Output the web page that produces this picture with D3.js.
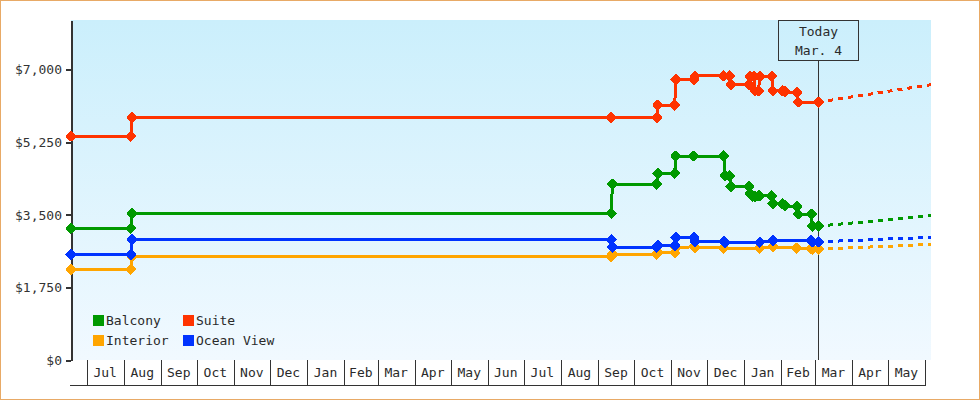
<!DOCTYPE html>
<html><head><meta charset="utf-8">
<script src="https://cdn.jsdelivr.net/npm/d3@7"></script>
<style>
html,body{margin:0;padding:0;background:#fff;}
svg{display:block;font-family:"DejaVu Sans Mono",monospace;}
</style></head>
<body>
<svg id="c" width="980" height="400"></svg>
<script>
// ---------- data ----------
const domainStart = "2012-06-18";
const domainEnd = "2014-06-06";
const todayDate = "2014-03-04";
const todayLabel = ["Today", "Mar. 4"];
const yTicks = [0, 1750, 3500, 5250, 7000];
const yMax = 8200;
const monthLabels = ["Jul","Aug","Sep","Oct","Nov","Dec","Jan","Feb","Mar","Apr","May","Jun",
                     "Jul","Aug","Sep","Oct","Nov","Dec","Jan","Feb","Mar","Apr","May"];
const seriesNames = ["Balcony", "Interior", "Suite", "Ocean View"];
const seriesColors = ["#009900", "#ffa500", "#ff3300", "#0033ff"];

const balcony = [
  ["2012-06-18",3180],["2012-08-07",3180],["2012-08-08",3540],["2013-09-12",3540],["2013-09-13",4240],
  ["2013-10-20",4240],["2013-10-21",4500],["2013-11-04",4500],["2013-11-05",4920],["2013-11-20",4920],
  ["2013-12-15",4920],["2013-12-16",4440],["2013-12-20",4440],["2013-12-21",4180],["2014-01-05",4180],
  ["2014-01-06",4020],["2014-01-08",3950],["2014-01-10",3940],["2014-01-13",3960],["2014-01-14",3960],
  ["2014-01-24",3960],["2014-01-25",3770],["2014-02-02",3770],["2014-02-04",3720],["2014-02-14",3700],
  ["2014-02-15",3520],["2014-02-26",3520],["2014-02-27",3230],["2014-03-04",3230]
];
const interior = [
  ["2012-06-18",2190],["2012-08-07",2190],["2012-08-08",2500],["2013-09-12",2500],["2013-09-13",2550],
  ["2013-10-20",2550],["2013-10-21",2590],["2013-11-04",2590],["2013-11-05",2710],["2013-11-20",2730],
  ["2013-11-21",2710],["2013-12-15",2700],["2014-01-14",2700],["2014-01-25",2730],["2014-02-14",2700],
  ["2014-02-26",2690],["2014-02-27",2670],["2014-03-04",2670]
];
const suite = [
  ["2012-06-18",5400],["2012-08-07",5400],["2012-08-08",5850],["2013-09-12",5850],["2013-10-20",5850],
  ["2013-10-21",6150],["2013-11-04",6150],["2013-11-05",6760],["2013-11-20",6760],["2013-11-21",6850],
  ["2013-12-15",6850],["2013-12-20",6850],["2013-12-21",6650],["2014-01-05",6650],["2014-01-06",6840],
  ["2014-01-09",6840],["2014-01-10",6490],["2014-01-13",6490],["2014-01-14",6840],["2014-01-24",6840],
  ["2014-01-25",6490],["2014-02-02",6490],["2014-02-04",6470],["2014-02-14",6450],["2014-02-15",6220],
  ["2014-03-04",6220]
];
const oceanView = [
  ["2012-06-18",2550],["2012-08-07",2550],["2012-08-08",2900],["2013-09-12",2900],["2013-09-13",2720],
  ["2013-10-20",2720],["2013-10-21",2760],["2013-11-04",2760],["2013-11-05",2960],["2013-11-20",2960],
  ["2013-11-21",2860],["2013-12-15",2860],["2013-12-16",2840],["2014-01-14",2840],["2014-01-25",2880],
  ["2014-02-26",2880],["2014-02-27",2850],["2014-03-04",2850]
];
// projections (dashed) from today to end of range
const balconyProj = [["2014-03-04",3230],["2014-06-06",3480]];
const interiorProj = [["2014-03-04",2670],["2014-06-06",2790]];
const suiteProj = [["2014-03-04",6220],["2014-06-06",6640]];
const oceanViewProj = [["2014-03-04",2850],["2014-06-06",2960]];

// ---------- drawing ----------
const parse = d3.timeParse("%Y-%m-%d");
const svg = d3.select("#c").attr("shape-rendering", "crispEdges");
const W = 980, H = 400;
const plot = {left: 71, right: 931, top: 20, bottom: 360};

const x = d3.scaleTime().domain([parse(domainStart), parse(domainEnd)]).range([plot.left, plot.right]);
const y = d3.scaleLinear().domain([0, yMax]).range([plot.bottom, plot.top]);

// outer border
svg.append("rect").attr("x", 0.5).attr("y", 0.5).attr("width", W - 1).attr("height", H - 1)
  .attr("fill", "#fff").attr("stroke", "#e8aa66");

// gradient background
const defs = svg.append("defs");
const g = defs.append("linearGradient").attr("id", "bg").attr("x1", 0).attr("y1", 0).attr("x2", 0).attr("y2", 1);
g.append("stop").attr("offset", "0%").attr("stop-color", "#cbeffc");
g.append("stop").attr("offset", "100%").attr("stop-color", "#f1f9ff");
svg.append("rect").attr("x", plot.left).attr("y", plot.top)
  .attr("width", plot.right - plot.left).attr("height", plot.bottom - plot.top).attr("fill", "url(#bg)");

// x axis (month bands)
const months = d3.timeMonth.range(d3.timeMonth.ceil(x.domain()[0]), x.domain()[1]);
const lastMonth = months[months.length - 1];
const xAxis = d3.axisBottom(x).tickValues(months).tickSize(25).tickSizeOuter(0).tickFormat("");
const xg = svg.append("g").attr("transform", `translate(0,${plot.bottom})`).call(xAxis);
xg.select(".domain").remove();
xg.selectAll(".tick line").attr("stroke", "#333").attr("stroke-width", 1);
svg.append("line").attr("x1", plot.left - 1).attr("x2", Math.round(x(lastMonth)) + 0.5)
  .attr("y1", plot.bottom + 25.5).attr("y2", plot.bottom + 25.5).attr("stroke", "#333");
svg.append("g").selectAll("text").data(monthLabels).join("text")
  .attr("x", (d, i) => (x(months[i]) + x(months[i + 1])) / 2)
  .attr("y", plot.bottom + 17)
  .attr("text-anchor", "middle").attr("font-size", 13).attr("fill", "#2a2a2a")
  .text(d => d);

// y axis
const yAxis = d3.axisLeft(y).tickValues(yTicks).tickSize(5).tickPadding(4).tickSizeOuter(0)
  .tickFormat(d => "$" + d3.format(",")(d));
const yg = svg.append("g").attr("transform", `translate(${plot.left},0)`).call(yAxis);
yg.select(".domain").attr("stroke", "#333").attr("stroke-width", 2);
yg.selectAll(".tick line").attr("stroke", "#333").attr("stroke-width", 2);
yg.selectAll(".tick text").attr("font-size", 13).attr("fill", "#333")
  .attr("font-family", '"DejaVu Sans Mono",monospace');

// today marker
const tx = Math.round(x(parse(todayDate))) + 0.5;
svg.append("line").attr("x1", tx).attr("x2", tx).attr("y1", 60).attr("y2", plot.bottom).attr("stroke", "#333");
svg.append("rect").attr("x", tx - 40).attr("y", plot.top + 0.5).attr("width", 80).attr("height", 40)
  .attr("fill", "none").attr("stroke", "#333");
svg.append("g").selectAll("text").data(todayLabel).join("text")
  .attr("x", tx).attr("y", (d, i) => 36 + i * 19)
  .attr("text-anchor", "middle").attr("font-size", 13).attr("fill", "#2a2a2a").text(d => d);

// series
const allSeries = [balcony, interior, suite, oceanView];
const allProj = [balconyProj, interiorProj, suiteProj, oceanViewProj];
const line = d3.line().x(d => x(parse(d[0]))).y(d => y(d[1]));
const diamond = "M0,-4.5L4.5,0L0,4.5L-4.5,0Z";

allSeries.forEach((s, i) => {
  const col = seriesColors[i];
  svg.append("path").datum(allProj[i]).attr("d", line).attr("fill", "none")
    .attr("stroke", col).attr("stroke-width", 3).attr("stroke-dasharray", "5,5");
  svg.append("path").datum(s).attr("d", line).attr("fill", "none")
    .attr("stroke", col).attr("stroke-width", 3).attr("stroke-linejoin", "round");
  svg.append("g").selectAll("path").data(s).join("path")
    .attr("d", diamond).attr("fill", col).attr("stroke", col)
    .attr("stroke-width", 2).attr("stroke-linejoin", "round")
    .attr("transform", d => `translate(${x(parse(d[0]))},${y(d[1])})`);
});

// legend (row-major: Balcony, Suite / Interior, Ocean View)
const legendOrder = [0, 2, 1, 3];
const lg = svg.append("g");
legendOrder.forEach((si, k) => {
  const col = k % 2, row = Math.floor(k / 2);
  const lx = 93 + col * 90, ly = 315 + row * 20;
  lg.append("rect").attr("x", lx).attr("y", ly).attr("width", 11).attr("height", 11).attr("fill", seriesColors[si]);
  lg.append("text").attr("x", lx + 13).attr("y", ly + 10).attr("font-size", 13).attr("fill", "#2a2a2a")
    .text(seriesNames[si]);
});
</script>
</body></html>
